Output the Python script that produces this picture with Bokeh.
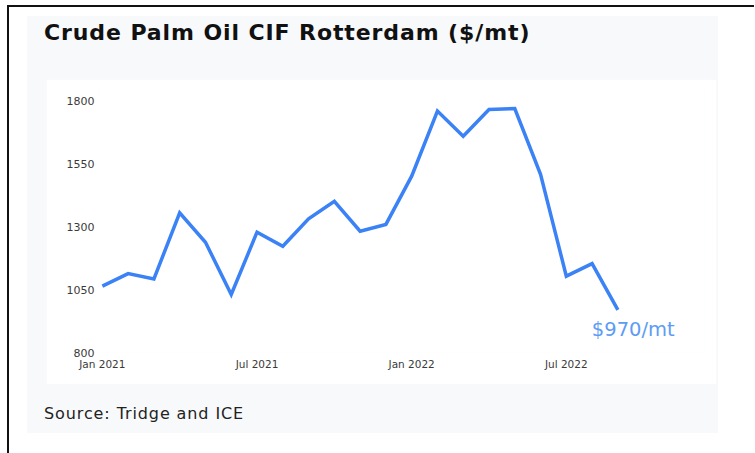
from bokeh.plotting import figure
from bokeh.models import Div, Label, FixedTicker, Range1d
from bokeh.layouts import column
from bokeh.embed import file_html
from bokeh.resources import INLINE

# ---- data ----
months = ["Jan 2021", "Feb 2021", "Mar 2021", "Apr 2021", "May 2021", "Jun 2021",
          "Jul 2021", "Aug 2021", "Sep 2021", "Oct 2021", "Nov 2021", "Dec 2021",
          "Jan 2022", "Feb 2022", "Mar 2022", "Apr 2022", "May 2022", "Jun 2022",
          "Jul 2022", "Aug 2022", "Sep 2022"]
prices = [1064, 1114, 1093, 1356, 1239, 1031,
          1279, 1223, 1332, 1402, 1283, 1310,
          1502, 1761, 1661, 1767, 1771, 1509,
          1104, 1154, 970]
y_ticks = [800, 1050, 1300, 1550, 1800]
x_tick_labels = ["Jan 2021", "Jul 2021", "Jan 2022", "Jul 2022"]
last_label = "$970/mt"
title_text = "Crude Palm Oil CIF Rotterdam ($/mt)"
source_text = "Source: Tridge and ICE"

xs = list(range(len(months)))
x_ticks = [months.index(m) for m in x_tick_labels]

FONT = "DejaVu Sans"

p = figure(width=670, height=305, output_backend="svg", toolbar_location=None,
           x_range=Range1d(-0.15, 23.4), y_range=Range1d(800, 1847),
           min_border_left=52, min_border_right=11, min_border_top=10, min_border_bottom=32,
           background_fill_color="white", border_fill_color="white")
p.outline_line_color = None
p.grid.visible = False

p.line(xs, prices, line_color="#3b82f6", line_width=3.5, line_join="miter")

p.yaxis.ticker = FixedTicker(ticks=y_ticks)
p.xaxis.ticker = FixedTicker(ticks=x_ticks)
p.xaxis.major_label_overrides = {i: months[i] for i in x_ticks}
for ax in (p.xaxis[0], p.yaxis[0]):
    ax.axis_line_color = None
    ax.major_tick_line_color = None
    ax.minor_tick_line_color = None
    ax.major_tick_out = 0
    ax.major_tick_in = 0
    ax.minor_tick_out = 0
    ax.minor_tick_in = 0
    ax.major_label_text_font = FONT
    ax.major_label_text_font_size = "10.5px"
    ax.major_label_text_color = "#3a3a3a"
p.yaxis.major_label_text_font_size = "11px"
p.yaxis.major_label_standoff = 4
p.xaxis.major_label_standoff = 5

p.add_layout(Label(x=xs[-1], y=prices[-1], text=last_label, x_offset=-26, y_offset=-20,
                   text_baseline="middle",
                   text_font=FONT, text_font_size="19.5px", text_color="#5c9cf5"))

title_div = Div(text=f'<div style="font-family:\'{FONT}\';font-weight:bold;font-size:22px;'
                     f'letter-spacing:0.9px;color:#111;padding:0;margin:-4px 0 0 -7px;'
                     f'white-space:nowrap;">{title_text}</div>',
                width=670, height=53)
src_div = Div(text=f'<div style="font-family:\'{FONT}\';font-size:16px;letter-spacing:0.9px;'
                   f'color:#222;padding:14px 0 0 0;margin-left:-7px;white-space:nowrap;">{source_text}</div>',
              width=670, height=39)

panel = column(title_div, p, src_div, width=691,
               styles={"background-color": "#f8f9fb", "padding-left": "19px",
                       "padding-right": "0px", "gap": "0px"})
panel.spacing = 0

outer = column(panel,
               styles={"border-top": "2px solid #111", "border-left": "2px solid #111",
                       "margin-top": "5px", "margin-left": "7px",
                       "padding-left": "18px", "padding-top": "9px",
                       "padding-right": "36px", "padding-bottom": "20px",
                       "background-color": "white"})

open("out.html", "w").write(file_html(outer, INLINE))
